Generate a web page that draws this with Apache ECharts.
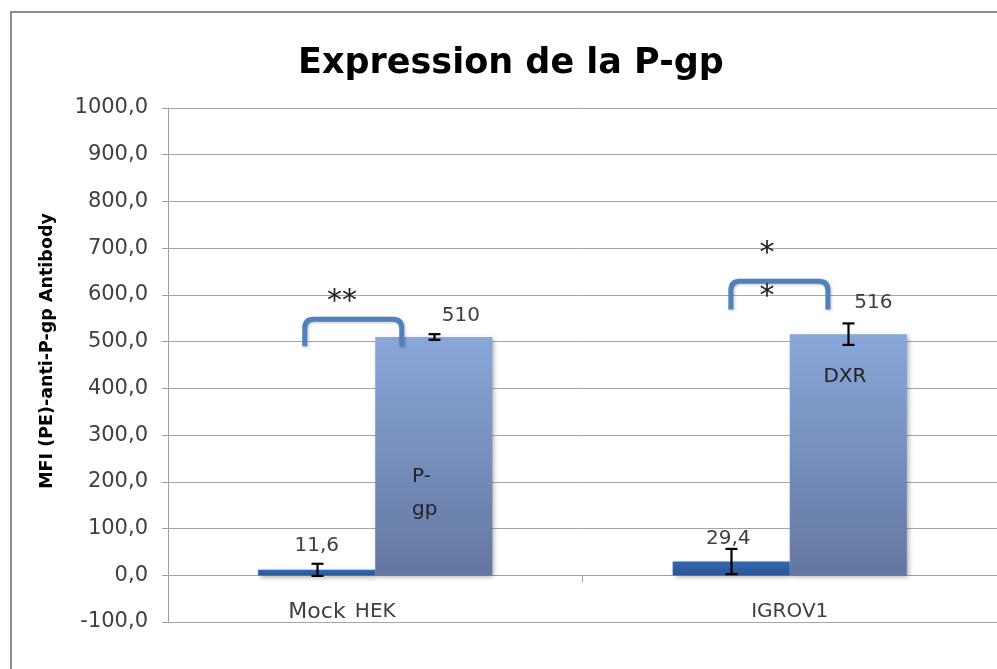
<!DOCTYPE html>
<html><head><meta charset="utf-8">
<script src="https://cdn.jsdelivr.net/npm/echarts@6/dist/echarts.min.js"></script>
<style>html,body{margin:0;padding:0;background:#fff}#c{width:997px;height:669px}</style>
</head><body><div id="c"></div>
<script>
// ---- data ----
const categories = ['HEK', 'IGROV1'];
const controlValues = [11.6, 29.4];
const pgpValues = [510, 516];
const controlErr = [13, 27];
const pgpErr = [6, 23];
const yTicks = { min: -100, max: 1000, interval: 100 };
// brackets: [category, startFrac, endFrac, legBottomValue, topValue]
const bracketCat = [0, 1];
const bracketStart = [-0.170, -0.142];
const bracketEnd = [0.064, 0.092];
const bracketBottom = [490, 569];
const bracketTop = [548, 629];
// annotation texts
const annoTexts = ['**', '*', '*', 'P-\ngp', 'DXR', 'Mock'];
const annoCat = [0, 1, 1, 0, 1, 0];
const annoFrac = [-0.080, -0.055, -0.055, 0.0887, 0.133, -0.1405];
const annoVal = [585, 688, 596, 176, 425, -80];

// ---- layout/style ----
const controlLabelDist = [14, 13];
const controlLabelDx = [0, -3];
const pgpLabelDist = [11, 21];
const pgpLabelDx = [27, 25];
const annoAlign = ['center', 'center', 'center', 'left', 'center', 'center'];
const annoSize = [30, 30, 30, 20, 20, 22];
const annoLH = [30, 30, 30, 33, 24, 24];
const catGap = 0.435;

const fmt = v => String(v).replace('.', ',');
const chart = echarts.init(document.getElementById('c'));

const darkGrad = new echarts.graphic.LinearGradient(0, 0, 0, 1, [
  { offset: 0, color: '#3468B0' }, { offset: 1, color: '#2A5595' }]);
const lightGrad = new echarts.graphic.LinearGradient(0, 0, 0, 1, [
  { offset: 0, color: '#89A7D9' }, { offset: 1, color: '#6477A0' }]);
const shadow = { shadowBlur: 5, shadowOffsetX: 2, shadowOffsetY: 2, shadowColor: 'rgba(0,0,0,0.35)' };

const errData = [];
controlValues.forEach((v, i) => errData.push([i, v - controlErr[i], v + controlErr[i], 0]));
pgpValues.forEach((v, i) => errData.push([i, v - pgpErr[i], v + pgpErr[i], 1]));

const bracketData = bracketCat.map((c, i) => [c, bracketStart[i], bracketEnd[i], bracketBottom[i], bracketTop[i]]);
const annoData = annoTexts.map((t, i) => [annoCat[i], annoVal[i], annoFrac[i], i]);

chart.setOption({
  animation: false,
  backgroundColor: '#fff',
  title: {
    text: 'Expression de la P-gp', left: 298, top: 46, padding: 0,
    textStyle: { fontFamily: 'DejaVu Sans', fontWeight: 'bold', fontSize: 35, color: '#000' }
  },
  graphic: [{
    type: 'rect', shape: { x: 11, y: 12, width: 1010, height: 700 }, silent: true,
    style: { fill: 'none', stroke: '#8c8c8c', lineWidth: 2 }, z: -10
  }],
  grid: { left: 168, right: 0, top: 108, bottom: 47, containLabel: false },
  xAxis: {
    type: 'category', data: categories,
    axisLine: { onZero: true, lineStyle: { color: '#a0a0a0', width: 1 } },
    axisTick: { show: true, length: 7, lineStyle: { color: '#a0a0a0' } },
    axisLabel: { margin: -20, fontFamily: 'DejaVu Sans', fontSize: 20, color: '#404040' }
  },
  yAxis: {
    type: 'value', min: yTicks.min, max: yTicks.max, interval: yTicks.interval,
    name: 'MFI (PE)-anti-P-gp Antibody', nameLocation: 'middle', nameGap: 112, nameRotate: 90,
    nameTextStyle: { fontFamily: 'DejaVu Sans', fontWeight: 'bold', fontSize: 17.5, color: '#000', padding: [0, 0, 0, 28] },
    axisLine: { show: true, lineStyle: { color: '#a0a0a0' } },
    axisTick: { show: true, length: 6, lineStyle: { color: '#a0a0a0' } },
    axisLabel: { margin: 20, fontFamily: 'DejaVu Sans', fontSize: 21, color: '#404040',
      formatter: v => v.toFixed(1).replace('.', ',') },
    splitLine: { lineStyle: { color: '#a6a6a6', width: 1 } }
  },
  series: [
    {
      type: 'bar', name: 'control', barGap: '0%', barCategoryGap: (catGap * 100) + '%',
      data: controlValues.map((v, i) => ({ value: v, label: { distance: controlLabelDist[i], offset: [controlLabelDx[i], 0] } })),
      itemStyle: Object.assign({ color: darkGrad }, shadow),
      label: { show: true, position: 'top', formatter: p => fmt(p.value), fontFamily: 'DejaVu Sans', fontSize: 20, color: '#404040' },
      z: 2
    },
    {
      type: 'bar', name: 'pgp', barGap: '0%', barCategoryGap: (catGap * 100) + '%',
      data: pgpValues.map((v, i) => ({ value: v, label: { distance: pgpLabelDist[i], offset: [pgpLabelDx[i], 0] } })),
      itemStyle: Object.assign({ color: lightGrad }, shadow),
      label: { show: true, position: 'top', formatter: p => fmt(p.value), fontFamily: 'DejaVu Sans', fontSize: 20, color: '#404040' },
      z: 2
    },
    {
      type: 'custom', name: 'err', z: 5, silent: true,
      encode: { x: 0, y: [1, 2] },
      data: errData,
      renderItem: (params, api) => {
        const cat = api.value(0), lo = api.value(1), hi = api.value(2), si = api.value(3);
        const bw = api.size([1, 0])[0];
        const barW = bw * (1 - catGap) / 2;
        const pLo = api.coord([cat, lo]), pHi = api.coord([cat, hi]);
        const x = Math.round(pLo[0] + (si === 0 ? -barW / 2 : barW / 2)) + 0.5;
        const cw = 6;
        const st = { stroke: '#000', lineWidth: 2.2 };
        return { type: 'group', children: [
          { type: 'line', shape: { x1: x, y1: pLo[1], x2: x, y2: pHi[1] }, style: st },
          { type: 'line', shape: { x1: x - cw, y1: pLo[1], x2: x + cw, y2: pLo[1] }, style: st },
          { type: 'line', shape: { x1: x - cw, y1: pHi[1], x2: x + cw, y2: pHi[1] }, style: st }
        ] };
      }
    },
    {
      type: 'custom', name: 'brackets', z: 6, silent: true,
      encode: { x: 0, y: [3, 4] },
      data: bracketData,
      renderItem: (params, api) => {
        const cat = api.value(0);
        const bw = api.size([1, 0])[0];
        const c = api.coord([cat, api.value(4)]);
        const b = api.coord([cat, api.value(3)]);
        const x1 = c[0] + api.value(1) * bw, x2 = c[0] + api.value(2) * bw;
        const yt = c[1], yb = b[1], r = 9;
        const d = `M${x1} ${yb} L${x1} ${yt + r} Q${x1} ${yt} ${x1 + r} ${yt} L${x2 - r} ${yt} Q${x2} ${yt} ${x2} ${yt + r} L${x2} ${yb}`;
        return { type: 'path', shape: { pathData: d },
          style: { fill: 'none', stroke: '#4F81BD', lineWidth: 5, lineCap: 'butt', lineJoin: 'round',
            shadowBlur: 3, shadowColor: 'rgba(0,0,0,0.25)', shadowOffsetX: 1, shadowOffsetY: 1 } };
      }
    },
    {
      type: 'custom', name: 'annotations', z: 7, silent: true,
      encode: { x: 0, y: 1 },
      data: annoData,
      renderItem: (params, api) => {
        const i = api.value(3);
        const bw = api.size([1, 0])[0];
        const c = api.coord([api.value(0), api.value(1)]);
        return { type: 'text', x: c[0] + api.value(2) * bw, y: c[1],
          style: { text: annoTexts[i], fontFamily: 'DejaVu Sans', fontSize: annoSize[i], lineHeight: annoLH[i],
            fill: i === 5 ? '#404040' : '#222', align: annoAlign[i], verticalAlign: 'middle' } };
      }
    }
  ]
});
</script></body></html>
